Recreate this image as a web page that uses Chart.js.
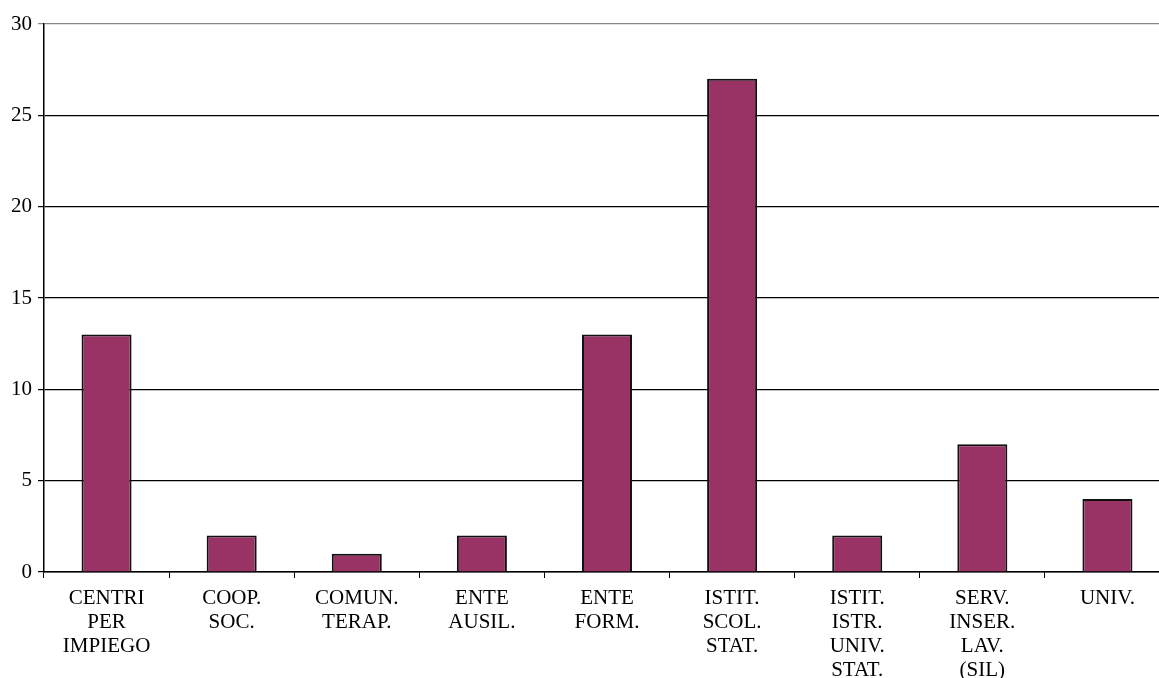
<!DOCTYPE html>
<html>
<head>
<meta charset="utf-8">
<script src="https://cdn.jsdelivr.net/npm/chart.js@4/dist/chart.umd.min.js"></script>
<style>
    html, body { margin: 0; padding: 0; background: #fff; overflow: hidden; }
    #wrap { position: relative; width: 1170px; height: 678px; }
</style>
</head>
<body>
<div id="wrap"><canvas id="chart"></canvas></div>
<script>
const categories = [
    ['CENTRI', 'PER', 'IMPIEGO'],
    ['COOP.', 'SOC.'],
    ['COMUN.', 'TERAP.'],
    ['ENTE', 'AUSIL.'],
    ['ENTE', 'FORM.'],
    ['ISTIT.', 'SCOL.', 'STAT.'],
    ['ISTIT.', 'ISTR.', 'UNIV.', 'STAT.'],
    ['SERV.', 'INSER.', 'LAV.', '(SIL)'],
    ['UNIV.']
];
const counts = [13, 2, 1, 2, 13, 27, 2, 7, 4];

const yMin = 0;
const yMax = 30;
const yStep = 5;

const serif = "'Liberation Serif', 'Times New Roman', serif";
const ctx = document.getElementById('chart').getContext('2d');

new Chart(ctx, {
    type: 'bar',
    data: {
        labels: categories,
        datasets: [{
            data: counts,
            backgroundColor: '#993366',
            borderColor: '#111',
            borderWidth: 2,
            categoryPercentage: 1,
            barPercentage: 0.4
        }]
    },
    options: {
        responsive: true,
        maintainAspectRatio: false,
        animation: false,
        layout: { padding: { top: 24, right: 0, left: 0, bottom: 0 } },
        plugins: {
            legend: { display: false },
            tooltip: { enabled: false }
        },
        scales: {
            x: {
                afterFit: (s) => { s.height = 106; },
                border: { color: '#000', width: 1.5 },
                grid: {
                    offset: true,
                    drawOnChartArea: false,
                    drawTicks: true,
                    tickLength: 6,
                    color: '#000'
                },
                ticks: {
                    autoSkip: false,
                    maxRotation: 0,
                    minRotation: 0,
                    padding: 9,
                    color: '#000',
                    font: { family: serif, size: 21, lineHeight: 1.14 }
                }
            },
            y: {
                min: yMin,
                max: yMax,
                afterFit: (s) => { s.width = 44; },
                border: { color: '#000', width: 1.5 },
                grid: {
                    color: (c) => (c.tick && c.tick.value === yMax ? '#888' : '#000'),
                    lineWidth: 1.2,
                    tickLength: 6
                },
                ticks: {
                    stepSize: yStep,
                    padding: 6,
                    color: '#000',
                    font: { family: serif, size: 21 }
                }
            }
        }
    }
});
</script>
</body>
</html>
